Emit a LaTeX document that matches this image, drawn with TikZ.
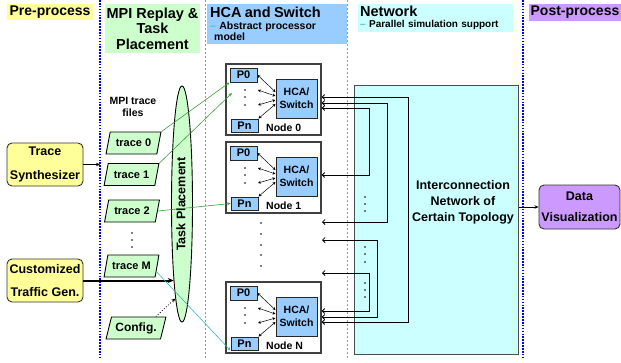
\documentclass[tikz,border=0pt]{standalone}
\usepackage{fontspec}
\setmainfont{Liberation Sans}
\usetikzlibrary{shapes.geometric,arrows.meta,calc}
\definecolor{cyel}{HTML}{FFFF99}
\definecolor{cgrn}{HTML}{CCFFCC}
\definecolor{cblu}{HTML}{99CCFF}
\definecolor{ccyn}{HTML}{CCFFFF}
\definecolor{cpur}{HTML}{CC99FF}
\definecolor{lgrn}{HTML}{3C9E3C}
\definecolor{lteal}{HTML}{3CB4B4}
\definecolor{vblue}{HTML}{0000FF}
\definecolor{dblue}{HTML}{8C8CFF}
\definecolor{dashc}{HTML}{33CCCC}
\newcommand{\fs}[2]{\fontsize{#1}{#2}\selectfont\bfseries}
\tikzset{
  hdr/.style={inner sep=0pt},
  procbox/.style={draw=black!80, line width=0.9pt, rounded corners=5pt, minimum width=76pt, minimum height=43pt, inner sep=0pt, align=center},
  trc/.style={trapezium, trapezium left angle=68, trapezium right angle=112, trapezium stretches=true, fill=cgrn, draw=black, line width=0.9pt, minimum width=55pt, minimum height=22pt, inner sep=0pt, font=\fs{11}{13}},
  nodebox/.style={draw=black!75, line width=1.3pt, fill=white, minimum width=95pt, minimum height=71pt, inner sep=0pt},
  pbox/.style={draw=black!85, line width=1pt, fill=cblu, minimum width=27pt, minimum height=14pt, inner sep=0pt, font=\fs{11}{13}},
  hcabox/.style={draw=black!85, line width=1pt, fill=cblu, minimum width=41pt, minimum height=39pt, inner sep=0pt, align=center, font=\fs{10.5}{13}},
  wire/.style={line width=0.8pt, {Straight Barb[length=2.5pt,width=5pt]}-{Straight Barb[length=2.5pt,width=5pt]}},
  inarr/.style={line width=0.5pt, {Stealth[length=3pt,width=3pt]}-{Stealth[length=3pt,width=3pt]}},
  arr/.style={line width=0.8pt, -{Stealth[length=4pt,width=3.5pt]}},
  bigdot/.style={vblue, line width=1.6pt, dash pattern=on 1.6pt off 1.3pt},
  thindash/.style={dblue, line width=0.5pt, dash pattern=on 2pt off 2pt},
}
\newcommand{\mkcomp}[3]{%
  \node[nodebox] (#1) at (273.5,#2+35.5) {};
  \node[pbox] (#1p0) at (243.5,#2+11) {P0};
  \node[pbox, minimum height=13pt] (#1pn) at (244.5,#2+61.5) {Pn};
  \node[hcabox] (#1h) at (296.5,#2+34.5) {HCA/\\Switch};
  \node[anchor=base west, inner sep=0pt, font=\fs{10.5}{12}] (#1l) at (266,#2+67) {#3};
  \foreach \yy in {26,33,41} \fill (245,#2+\yy) circle (0.9pt);
  \coordinate (#1d1) at (258,#2+26);
  \coordinate (#1d2) at (258,#2+41);
  \draw[inarr] ($(#1h.west)+(0,-6.5)$) -- (#1p0.east);
  \draw[inarr] ($(#1h.west)+(0,-2.5)$) -- (#1d1);
  \draw[inarr] ($(#1h.west)+(0,1.5)$) -- (#1d2);
  \draw[inarr] ($(#1h.west)+(0,5.5)$) -- (#1pn.north east);
}
\begin{document}
\begin{tikzpicture}[x=1pt,y=-1pt]
\useasboundingbox (0,0) rectangle (621,362);
% separators
\coordinate (v1t) at (100,0); \coordinate (v1b) at (100,358);
\coordinate (v2t) at (523,0); \coordinate (v2b) at (523,358);
\coordinate (v3t) at (205.5,0); \coordinate (v3b) at (205.5,358);
\coordinate (v4t) at (347,0); \coordinate (v4b) at (347,358);
\draw[thindash] (v3t) -- (v3b);
\draw[thindash] (v4t) -- (v4b);
\draw[bigdot] (v1t) -- (v1b);
\draw[bigdot] (v2t) -- (v2b);
% headers
\node[hdr, fill=cyel, minimum width=86pt, minimum height=16pt, font=\fs{14}{16}] (hpre) at (50,12) {Pre-process};
\node[hdr, fill=cgrn, minimum width=95pt, minimum height=49pt, align=center, font=\fs{14.5}{15.5}] (hmpi) at (152.5,28.5) {MPI Replay \&\\Task\\Placement};
\node[anchor=north west, fill=cblu, minimum width=140pt, minimum height=40pt, text width=134pt, inner xsep=3pt, inner ysep=2pt, align=left] (hhca) at (207,4)
  {{\fs{14.5}{16}HCA and Switch\par}{\fs{10.5}{11.5}\textcolor{dashc}{--} Abstract processor\par\hspace*{4pt}model\par}};
\node[anchor=north west, fill=ccyn, minimum width=155pt, minimum height=28pt, text width=151pt, inner xsep=2pt, inner ysep=1.5pt, align=left] (hnet) at (358,4)
  {{\fs{14.5}{16}Network\par}{\fs{10}{11}\textcolor{dashc}{--} Parallel simulation support\par}};
\node[hdr, fill=cpur, minimum width=92pt, minimum height=17pt, font=\fs{14}{16}] (hpost) at (575,12.5) {Post-process};
% left boxes
\node[procbox, fill=cyel, font=\fs{12.5}{24}] (ts) at (45,164.5) {Trace\\Synthesizer};
\node[procbox, fill=cyel, font=\fs{12.5}{23}] (ctg) at (45,280.5) {Customized\\Traffic Gen.};
% traces
\node[align=center, inner sep=0pt, font=\fs{10.5}{12}] (mtf) at (133,107) {MPI trace\\files};
\node[trc] (t0) at (133.5,143) {trace 0};
\node[trc] (t1) at (131.5,174.5) {trace 1};
\node[trc] (t2) at (132,211) {trace 2};
\node[trc] (tM) at (131.5,266) {trace M};
\node[trc, minimum width=60pt, font=\fs{12}{13}] (cfg) at (136,328) {Config.};
\foreach \yy in {233,240,247} \fill (132,\yy) circle (0.9pt);
% task placement
\node[ellipse, draw=black, line width=0.9pt, fill=cgrn, minimum width=21pt, minimum height=236pt, inner sep=0pt] (tp) at (182,204) {};
\node[rotate=90, inner sep=0pt, font=\fs{12.5}{14}] (tpl) at (181,204) {Task Placement};
% compute nodes
\mkcomp{n0}{64}{Node 0}
\mkcomp{n1}{142}{Node 1}
\mkcomp{nN}{282}{Node N}
\foreach \yy in {223,234,245,255,266} \fill (261,\yy) circle (0.9pt);
% network
\node[draw=black!70, line width=1pt, fill=ccyn, minimum width=164pt, minimum height=269pt, inner sep=0pt] (net) at (436,219.5) {};
\node[align=center, inner sep=0pt, font=\fs{12.5}{16}] (netl) at (463,202) {Interconnection\\Network of\\Certain Topology};
\foreach \yy in {197,204,211,247,254,262,283,290,297} \fill (365,\yy) circle (0.9pt);
% post
\node[procbox, fill=cpur, minimum width=81pt, minimum height=44pt, font=\fs{12.5}{21}] (dv) at (579.5,207) {Data\\Visualization};
% gap coordinates
\coordinate (g1) at (322,222);
\coordinate (g2) at (322,240);
\coordinate (g3) at (322,273);
\coordinate (n0in) at (232,93);
% wires
\draw[wire] ($(n0.east)+(0,-2.5)$) -- ++(87,0) |- ($(nN.east)+(0,4.5)$);
\draw[wire] ($(n0.east)+(0,3.5)$) -- ++(66,0) |- (g1);
\draw[wire] ($(n0.east)+(0,8.5)$) -- ++(48,0) |- ($(n1.east)+(0,-2.5)$);
\draw[wire] (g2) -- ++(55,0) |- ($(nN.east)+(0,-0.5)$);
\draw[wire] (g3) -- ++(47,0) |- ($(nN.east)+(0,-6.5)$);
% arrows
\draw[arr] (ts.east) -- (ts.east -| v1t);
\draw[line width=2pt, -{Stealth[length=6pt,width=5pt]}] (ctg.east) -- (ctg.east -| tp.264);
\draw[line width=0.8pt, dotted, -{Stealth[length=4pt,width=3.5pt]}] ($(cfg.north)!0.65!(cfg.top right corner)$) -- (tp.266);
\draw[arr] (net.east |- dv.west) -- (dv.west);
\draw[lgrn, line width=0.6pt, -{Stealth[length=3.5pt,width=3pt]}] (t0.top right corner) -- (n0p0.south west);
\draw[lgrn, line width=0.6pt, -{Stealth[length=3.5pt,width=3pt]}] (t1.top right corner) -- (n0in);
\draw[lgrn, line width=0.6pt, -{Stealth[length=3.5pt,width=3pt]}] (t2.east) -- (n1pn.west);
\draw[lteal, line width=0.6pt, -{Stealth[length=3.5pt,width=3pt]}] ($(tM.east)!0.5!(tM.bottom right corner)$) -- (nNpn.south west);
\end{tikzpicture}
\end{document}
